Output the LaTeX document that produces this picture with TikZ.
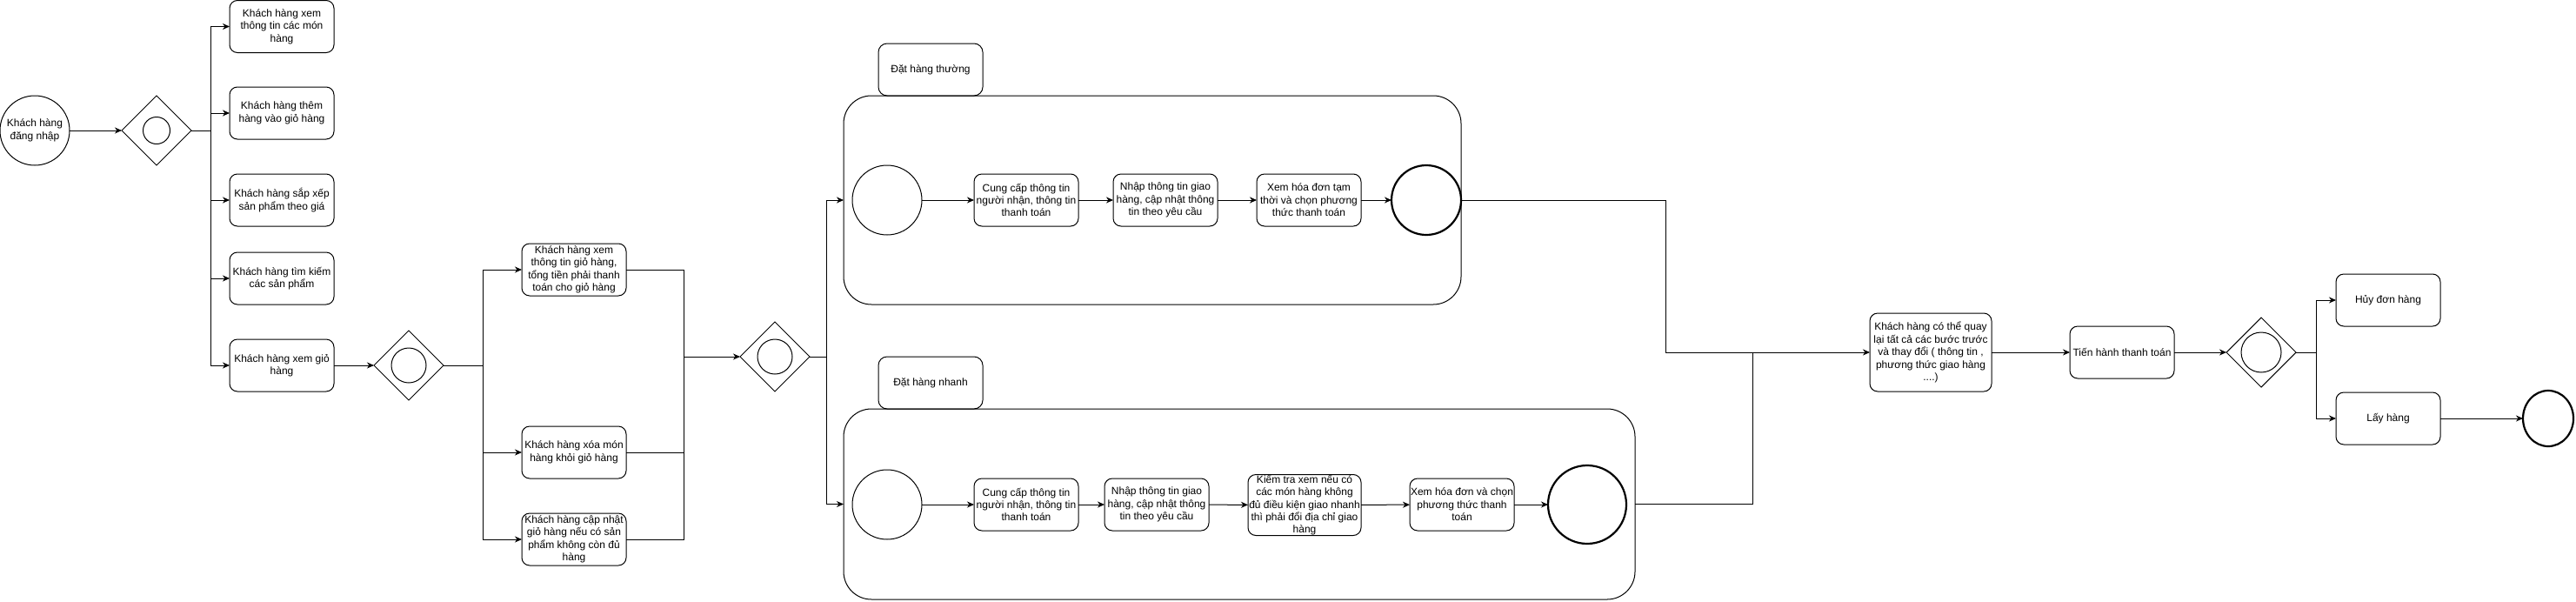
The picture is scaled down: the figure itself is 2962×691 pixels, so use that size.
\documentclass[tikz,border=0pt]{standalone}
\usepackage{fontspec}
\setmainfont{Liberation Sans}
\usetikzlibrary{shapes.geometric,arrows.meta}
\begin{document}
\begin{tikzpicture}[x=1pt,y=-1pt,
  every node/.style={font=\fontsize{12}{14.4}\selectfont, inner sep=0pt, outer sep=0pt},
  box/.style={draw, line width=1pt, rounded corners=9pt, align=center,
    minimum width=120pt, minimum height=60pt, inner xsep=-8pt, inner ysep=-4pt},
  gate/.style={diamond, draw, line width=1pt, minimum width=80pt, minimum height=80pt, aspect=1},
  ring/.style={circle, draw, line width=1pt, minimum size=#1},
  startev/.style={circle, draw, line width=1pt, minimum size=80pt},
  endev/.style={circle, draw, line width=2.2pt, minimum size=#1},
  pool/.style={draw, line width=1pt, rounded corners=32pt},
  tag/.style={draw, line width=1pt, rounded corners=10pt, minimum width=120pt, minimum height=60pt},
  ln/.style={line width=1pt},
  arr/.style={line width=1pt, -{Stealth[length=8pt,width=7pt,inset=2.5pt]}}
]
\useasboundingbox (0,0) rectangle (2962,691);
\fill[white] (0,0) rectangle (2962,691);

% ---- left part
\node[startev, align=center] (login) at (40,150) {Khách hàng\\đăng nhập};
\node[gate] (g1) at (180,150) {};
\node[ring=31pt] (g1r) at (180,150) {};
\node[box] (b1) at (324,30.5) {Khách hàng xem\\thông tin các món\\hàng};
\node[box] (b2) at (324,130) {Khách hàng thêm\\hàng vào giỏ hàng};
\node[box] (b3) at (324,230) {Khách hàng sắp xếp\\sản phẩm theo giá};
\node[box] (b4) at (324,320) {Khách hàng tìm kiếm\\các sản phẩm};
\node[box] (b5) at (324,420) {Khách hàng xem giỏ\\hàng};
\coordinate (j1) at (242,150);
\draw[arr] (login.east) -- (g1.west);
\draw[ln] (g1.east) -- (j1);
\foreach \b in {b1,b2,b3,b4,b5} \draw[arr] (j1) |- (\b.west);

% ---- cart part
\node[gate] (g2) at (470,420) {};
\node[ring=40pt] (g2r) at (470,420) {};
\draw[arr] (b5.east) -- (g2.west);
\node[box] (c1) at (660,310) {Khách hàng xem\\thông tin giỏ hàng,\\tổng tiền phải thanh\\toán cho giỏ hàng};
\node[box] (c2) at (660,520) {Khách hàng xóa món\\hàng khỏi giỏ hàng};
\node[box] (c3) at (660,620) {Khách hàng cập nhật\\giỏ hàng nếu có sản\\phẩm không còn đủ\\hàng};
\coordinate (j2) at (555,420);
\draw[ln] (g2.east) -- (j2);
\foreach \c in {c1,c2,c3} \draw[arr] (j2) |- (\c.west);
\node[gate] (g3) at (891,410) {};
\node[ring=40pt] (g3r) at (891,410) {};
\coordinate (k2) at (786,410);
\foreach \c in {c1,c2,c3} \draw[ln] (\c.east) -| (k2);
\draw[arr] (k2) -- (g3.west);

% ---- pools
\node[pool, minimum width=710pt, minimum height=240pt] (pool1) at (1325,230) {};
\node[tag] (lab1) at (1070,80) {Đặt hàng thường};
\node[pool, minimum width=910pt, minimum height=219pt] (pool2) at (1425,579.5) {};
\node[tag] (lab2) at (1070,440) {Đặt hàng nhanh};
\coordinate (j3) at (950,410);
\draw[ln] (g3.east) -- (j3);
\draw[arr] (j3) |- (pool1.west);
\draw[arr] (j3) |- (pool2.west);

% pool 1
\node[startev] (s1) at (1020,230) {};
\node[box] (p1a) at (1180,230) {Cung cấp thông tin\\người nhận, thông tin\\thanh toán};
\node[box] (p1b) at (1340,230) {Nhập thông tin giao\\hàng, cập nhật thông\\tin theo yêu cầu};
\node[box] (p1c) at (1505,230) {Xem hóa đơn tạm\\thời và chọn phương\\thức thanh toán};
\node[endev=80pt] (e1) at (1640,230) {};
\draw[arr] (s1) -- (p1a);
\draw[arr] (p1a) -- (p1b);
\draw[arr] (p1b) -- (p1c);
\draw[arr] (p1c) -- (e1);

% pool 2
\node[startev] (s2) at (1020,580) {};
\node[box] (p2a) at (1180,580) {Cung cấp thông tin\\người nhận, thông tin\\thanh toán};
\node[box] (p2b) at (1330,580) {Nhập thông tin giao\\hàng, cập nhật thông\\tin theo yêu cầu};
\node[box, minimum width=130pt, minimum height=70pt] (p2c) at (1500,580.5) {Kiểm tra xem nếu có\\các món hàng không\\đủ điều kiện giao nhanh\\thì phải đổi địa chỉ giao\\hàng};
\node[box] (p2d) at (1681,580) {Xem hóa đơn và chọn\\phương thức thanh\\toán};
\node[endev=90pt] (e2) at (1825,580) {};
\draw[arr] (s2) -- (p2a);
\draw[arr] (p2a) -- (p2b);
\draw[arr] (p2b) -- (p2c);
\draw[arr] (p2c) -- (p2d);
\draw[arr] (p2d) -- (e2);

% ---- right part
\node[box, minimum width=140pt, minimum height=90pt] (r1) at (2220,405) {Khách hàng có thể quay\\lại tất cả các bước trước\\và thay đổi ( thông tin ,\\phương thức giao hàng\\....)};
\node[box] (r2) at (2440,405) {Tiến hành thanh toán};
\coordinate (m1) at (1915,405);
\coordinate (m2) at (2015,405);
\draw[ln] (pool1.east) -| (m1);
\draw[ln] (pool2.east) -| (m2);
\draw[arr] (m1) -- (r1.west);
\draw[arr] (r1) -- (r2);
\node[gate] (g4) at (2600,405) {};
\node[ring=46pt] (g4r) at (2600,405) {};
\draw[arr] (r2) -- (g4.west);
\coordinate (j4) at (2663,405);
\draw[ln] (g4.east) -- (j4);
\node[box] (h) at (2746,345) {Hủy đơn hàng};
\node[box] (l) at (2746,481) {Lấy hàng};
\draw[arr] (j4) |- (h.west);
\draw[arr] (j4) |- (l.west);
\node[ellipse, draw, line width=2.2pt, minimum width=58pt, minimum height=64pt] (fin) at (2930,481) {};
\draw[arr] (l) -- (fin);
\end{tikzpicture}
\end{document}
